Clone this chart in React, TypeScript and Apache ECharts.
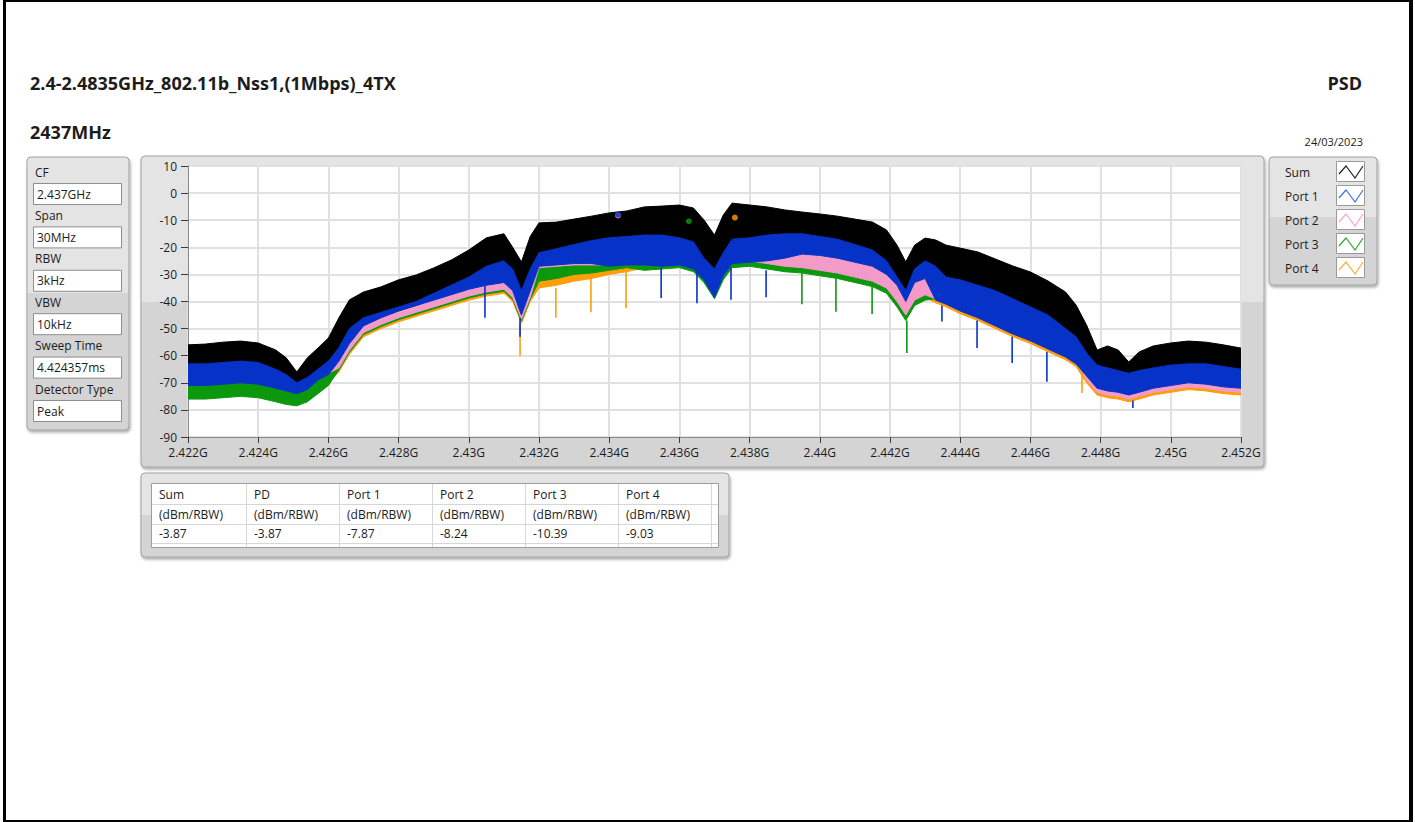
import { useEffect, useRef } from "react";
import * as echarts from "echarts";

// Frequency grid (GHz)
const freqGHz = [
  2.422, 2.4225, 2.423, 2.4235, 2.424, 2.4245, 2.4248, 2.4251, 2.4254, 2.4257,
  2.426, 2.4263, 2.4266, 2.427, 2.4275, 2.428, 2.4285, 2.429, 2.4295, 2.43,
  2.4305, 2.431, 2.43125, 2.4315, 2.43175, 2.432, 2.4325, 2.433, 2.4335, 2.434,
  2.4345, 2.435, 2.4355, 2.436, 2.4364, 2.4367, 2.437, 2.43725, 2.4375, 2.438,
  2.4385, 2.439, 2.4395, 2.44, 2.4405, 2.441, 2.4415, 2.4419, 2.4422, 2.44245,
  2.4427, 2.443, 2.4433, 2.4436, 2.444, 2.4445, 2.445, 2.4455, 2.446, 2.4465,
  2.447, 2.4473, 2.4476, 2.4479, 2.4482, 2.4485, 2.4488, 2.4491, 2.4495, 2.45,
  2.4505, 2.451, 2.4515, 2.452,
];

// Sum trace: upper envelope (dBm/RBW)
const sumHi = [
  -56, -55.7, -55, -54.6, -55.3, -57.9, -60.8, -66, -60.8, -57.2,
  -53.5, -46, -39.4, -36.5, -34.6, -32, -30.2, -27.6, -24.7, -21,
  -16.5, -15, -20, -25.4, -16, -11, -10.7, -9.6, -8.5, -7.3,
  -6.6, -5.1, -4.8, -4.4, -5.5, -9.9, -15.5, -8.1, -3.7, -4.4,
  -5.1, -6.2, -7, -7.7, -8.5, -9.6, -10.7, -13.6, -19.2, -25.4,
  -19.2, -16.6, -17.3, -19.2, -20.3, -21.7, -24.3, -26.9, -29.1, -32.4,
  -36.5, -41.3, -48.7, -57.9, -56.4, -57.9, -62.3, -58.6, -56.4, -55.3,
  -54.6, -55, -56, -57.2,
];

// Port 1 envelope
const port1Hi = [
  -63, -63, -62.5, -62, -62.5, -65, -67, -70, -68, -65,
  -62, -57, -50, -46, -44, -42, -40, -37, -34, -31,
  -27, -25, -28, -36, -28, -22, -20.5, -19, -17.5, -16.5,
  -16, -15.5, -15.5, -16.5, -18, -24, -28, -22, -17, -16.5,
  -15.5, -15, -15, -16, -17, -19, -21, -25, -31, -36,
  -28, -25, -27, -31, -32, -34, -36, -39, -42, -45,
  -50, -53, -59, -63.5, -64.5, -65.5, -66.5, -65.5, -64.5, -63.5,
  -63, -63, -64, -65,
];
const port1Lo = [
  -71, -71, -70.5, -70, -70.5, -72, -73, -74, -72.5, -69,
  -67, -62, -55.5, -49, -46, -43.5, -41.5, -39.5, -37.5, -35.5,
  -34, -33, -36, -45, -36, -27, -26.5, -26, -26, -27,
  -26.5, -26.5, -27, -26.5, -28, -32, -38.5, -30.5, -26, -25.5,
  -25, -24, -22.5, -23, -24, -25.5, -27, -30, -34, -40,
  -33, -31.5, -39.5, -41, -43.5, -46, -49, -52, -54.5, -57.5,
  -60.5, -63, -67.5, -72, -73, -73.5, -74.5, -73.5, -72, -71,
  -70, -70.5, -71.5, -72,
];

// Port 2 envelope
const port2Hi = [
  -65, -65, -64.5, -64, -64.5, -67, -69, -72, -70, -67,
  -64, -59, -52, -48, -46, -44, -42, -39, -36, -33,
  -29, -27, -30, -38, -30, -24, -22.5, -21, -19.5, -18.5,
  -18, -17.5, -17.5, -18.5, -20, -26, -30, -24, -19, -18.5,
  -17.5, -17, -17, -18, -19, -21, -23, -27, -33, -38,
  -30, -27, -29, -33, -34, -36, -38, -41, -44, -47,
  -52, -55, -61, -65.5, -66.5, -67.5, -68.5, -67.5, -66.5, -65.5,
  -65, -65, -66, -67,
];
const port2Lo = [
  -70.5, -70.5, -70, -69.5, -70, -71.5, -72.5, -73.5, -72, -68.5,
  -66.5, -64.5, -58, -51.5, -48.5, -46, -44, -42, -40, -38,
  -36.5, -35.5, -38.5, -46.5, -38.5, -27.5, -27, -26.5, -26.5, -26.5,
  -26, -26, -26.5, -26, -27.5, -31.5, -38, -30, -25.5, -25,
  -26, -27, -27.5, -28.5, -29.5, -31, -32.5, -35, -40, -45,
  -39.5, -37.5, -39, -40.5, -43, -45.5, -48.5, -51.5, -54, -57,
  -60, -62.5, -69, -73.5, -74.5, -75, -76, -75, -73.5, -72.5,
  -71.5, -72, -73, -73.5,
];

// Port 3 envelope
const port3Hi = [
  -66, -66, -65.5, -65, -65.5, -68, -70, -73, -71, -68,
  -65, -60, -53, -49, -47, -45, -43, -40, -37, -34,
  -30, -28, -31, -39, -31, -25, -23.5, -22, -20.5, -19.5,
  -19, -18.5, -18.5, -19.5, -21, -27, -31, -25, -20, -19.5,
  -18.5, -18, -18, -19, -20, -22, -24, -28, -34, -39,
  -31, -28, -30, -34, -35, -37, -39, -42, -45, -48,
  -53, -56, -62, -66.5, -67.5, -68.5, -69.5, -68.5, -67.5, -66.5,
  -66, -66, -67, -68,
];
const port3Lo = [
  -76, -76, -75.5, -75, -75.5, -77, -78, -78.5, -77, -74,
  -71, -65.2, -58.7, -52.2, -49.2, -46.7, -44.7, -42.7, -40.7, -38.7,
  -37.2, -36.2, -39.2, -47.2, -39.2, -32.5, -31.5, -30, -29.5, -28.5,
  -27.5, -28.5, -28, -27.5, -29, -33, -39, -32, -27.5, -27,
  -28, -29, -29.5, -30.5, -31.5, -33, -34.5, -37, -42, -47,
  -41.5, -39.5, -39, -40.5, -43, -45.5, -48.5, -51.5, -54, -57,
  -60, -62.5, -67, -71.5, -72.5, -73, -74, -73, -71.5, -70.5,
  -69.5, -70, -71, -71.5,
];

// Port 4 envelope
const port4Hi = [
  -67, -67, -66.5, -66, -66.5, -69, -71, -74, -72, -69,
  -66, -61, -54, -50, -48, -46, -44, -41, -38, -35,
  -31, -29, -32, -40, -32, -26, -24.5, -23, -21.5, -20.5,
  -20, -19.5, -19.5, -20.5, -22, -28, -32, -26, -21, -20.5,
  -19.5, -19, -19, -20, -21, -23, -25, -29, -35, -40,
  -32, -29, -31, -35, -36, -38, -40, -43, -46, -49,
  -54, -57, -63, -67.5, -68.5, -69.5, -70.5, -69.5, -68.5, -67.5,
  -67, -67, -68, -69,
];
const port4Lo = [
  -75, -75, -74.5, -74, -74.5, -76, -77, -77.5, -76, -73,
  -70, -66, -59.5, -53, -50, -47.5, -45.5, -43.5, -41.5, -39.5,
  -38, -37, -40, -48, -40, -35, -34, -32.5, -31.5, -30,
  -29, -27.5, -27, -26.5, -28, -32, -38, -31, -26.5, -26,
  -27, -28, -28.5, -29.5, -30.5, -32, -33.5, -36, -41, -46,
  -40.5, -38.5, -40.5, -42, -44.5, -47, -50, -53, -55.5, -58.5,
  -61.5, -64, -70, -74.5, -75.5, -76, -77, -76, -74.5, -73.5,
  -72.5, -73, -74, -74.5,
];

// Narrow downward spikes: frequency, top, bottom, trace index
const spikeFreq = [2.43046, 2.43146, 2.43146, 2.43248, 2.43348, 2.43448, 2.43548, 2.4365, 2.43747, 2.43847, 2.43949, 2.44046, 2.44149, 2.44248, 2.44348, 2.44448, 2.44548, 2.44647, 2.44747, 2.44892];
const spikeTop = [-34, -48, -46, -35, -31.5, -29, -27.5, -28, -27.5, -28.5, -29.5, -31.5, -34, -47, -41.5, -47, -53, -58.5, -66, -76.5];
const spikeBottom = [-46, -60, -53, -46, -44, -42.5, -38.7, -40.6, -39.4, -38.4, -41, -43.8, -44.6, -59, -47.4, -57.2, -62.7, -69.6, -73.8, -79.3];
const spikeTrace = [1, 4, 1, 4, 4, 4, 1, 1, 1, 1, 3, 3, 3, 3, 1, 1, 1, 1, 4, 1];

// Peak markers (Port 2, Port 1, Port 3, Port 4)
const peakFreq = [2.43425, 2.43425, 2.43627, 2.43758];
const peakValue = [-8.24, -7.87, -10.39, -9.03];
const peakTrace = [2, 1, 3, 4];

const traceNames = ["Sum", "Port 1", "Port 2", "Port 3", "Port 4"];
const traceColors = ["#000000", "#0632c8", "#f49ac9", "#0c980c", "#ff9d0a"];
const legendColors = ["#222222", "#3f6fe6", "#ffa0d2", "#2aa82a", "#ffab3a"];

const settingLabels = ["CF", "Span", "RBW", "VBW", "Sweep Time", "Detector Type"];
const settingValues = ["2.437GHz", "30MHz", "3kHz", "10kHz", "4.424357ms", "Peak"];

const tableHeaders = ["Sum", "PD", "Port 1", "Port 2", "Port 3", "Port 4"];
const tableUnits = ["(dBm/RBW)", "(dBm/RBW)", "(dBm/RBW)", "(dBm/RBW)", "(dBm/RBW)", "(dBm/RBW)"];
const tableValues = ["-3.87", "-3.87", "-7.87", "-8.24", "-10.39", "-9.03"];

const titleText = "2.4-2.4835GHz_802.11b_Nss1,(1Mbps)_4TX";
const channelText = "2437MHz";
const kindText = "PSD";
const dateText = "24/03/2023";

const FONT = '"Open Sans", "Noto Sans", sans-serif';
const TXT = "#1c1c1c";

function panelFill(split: number) {
  return new echarts.graphic.LinearGradient(0, 0, 0, 1, [
    { offset: 0, color: "#e4e4e4" },
    { offset: split, color: "#e4e4e4" },
    { offset: split, color: "#d4d4d4" },
    { offset: 1, color: "#d4d4d4" },
  ]);
}

function panel(x: number, y: number, w: number, h: number, split: number) {
  return {
    type: "rect",
    z: -10,
    silent: true,
    shape: { x, y, width: w, height: h, r: 4 },
    style: {
      fill: panelFill(split),
      stroke: "#a2a2a2",
      lineWidth: 1,
      shadowBlur: 3,
      shadowOffsetX: 1,
      shadowOffsetY: 2,
      shadowColor: "rgba(0,0,0,0.35)",
    },
  };
}

function text(t: string, x: number, y: number, font: string, align = "left", fill = TXT) {
  return {
    type: "text",
    silent: true,
    z: 5,
    style: { text: t, x, y, font, fill, align, verticalAlign: "middle" },
  };
}

function buildGraphics() {
  const els: any[] = [];
  // page frame
  els.push({ type: "rect", silent: true, z: 20, shape: { x: 3, y: 0, width: 3, height: 822 }, style: { fill: "#000" } });
  els.push({ type: "rect", silent: true, z: 20, shape: { x: 3, y: 0, width: 1410, height: 2 }, style: { fill: "#000" } });
  els.push({ type: "rect", silent: true, z: 20, shape: { x: 1409, y: 0, width: 4, height: 822 }, style: { fill: "#000" } });
  els.push({ type: "rect", silent: true, z: 20, shape: { x: 3, y: 820, width: 1410, height: 2 }, style: { fill: "#000" } });

  // titles
  els.push(text(titleText, 30, 83, `bold 18px ${FONT}`));
  els.push(text(channelText, 30, 132, `bold 18px ${FONT}`));
  els.push(text(kindText, 1362, 83, `bold 18px ${FONT}`, "right"));
  els.push(text(dateText, 1363, 141, `11px ${FONT}`, "right"));

  // settings panel
  els.push(panel(27, 157, 102, 273, 0.5));
  settingLabels.forEach((lab, i) => {
    const ly = 172 + i * 43.4;
    els.push(text(lab, 35, ly, `12px ${FONT}`));
    els.push({
      type: "rect", silent: true, z: 3,
      shape: { x: 33.5, y: ly + 11.5, width: 88, height: 21 },
      style: { fill: "#ffffff", stroke: "#8e8e8e", lineWidth: 1 },
    });
    els.push(text(settingValues[i], 37, ly + 22, `12px ${FONT}`));
  });

  // chart panel
  els.push(panel(141, 156, 1123, 311, 0.47));

  // legend panel
  els.push(panel(1269, 157, 108, 128, 0.47));
  traceNames.forEach((n, i) => {
    const y = 172 + i * 24;
    els.push(text(n, 1285, y, `12px ${FONT}`));
    els.push({
      type: "rect", silent: true, z: 3,
      shape: { x: 1336.5, y: y - 10.5, width: 28, height: 20 },
      style: { fill: "#ffffff", stroke: "#9a9a9a", lineWidth: 1 },
    });
    els.push({
      type: "polyline", silent: true, z: 4,
      shape: { points: [[1339, y + 2], [1346, y - 6], [1355, y + 6], [1363, y - 6]] },
      style: { stroke: legendColors[i], lineWidth: 1.2, fill: "none" },
    });
  });

  // table panel
  els.push(panel(141, 473, 588, 84, 0.5));
  els.push({
    type: "rect", silent: true, z: 3,
    shape: { x: 151.5, y: 483.5, width: 567, height: 64 },
    style: { fill: "#ffffff", stroke: "#9c9c9c", lineWidth: 1 },
  });
  const colX = [151, 246, 339, 432, 525, 618, 711];
  colX.slice(1).forEach((cx) => {
    els.push({ type: "line", silent: true, z: 4, shape: { x1: cx + 0.5, y1: 484, x2: cx + 0.5, y2: 547 }, style: { stroke: "#d6d6d6", lineWidth: 1 } });
  });
  [504, 524, 543].forEach((ry) => {
    els.push({ type: "line", silent: true, z: 4, shape: { x1: 152, y1: ry + 0.5, x2: 718, y2: ry + 0.5 }, style: { stroke: "#d6d6d6", lineWidth: 1 } });
  });
  tableHeaders.forEach((h, i) => {
    els.push(text(h, colX[i] + 8, 494, `12px ${FONT}`));
    els.push(text(tableUnits[i], colX[i] + 8, 514.5, `12px ${FONT}`));
    els.push(text(tableValues[i], colX[i] + 8, 533.5, `12px ${FONT}`));
  });
  return els;
}

const traceBands = [
  { lo: port1Lo, hi: sumHi },
  { lo: port1Lo, hi: port1Hi },
  { lo: port2Lo, hi: port2Hi },
  { lo: port3Lo, hi: port3Hi },
  { lo: port4Lo, hi: port4Hi },
];

// One filled polygon per trace, drawn between its lower and upper envelope
function bandSeries(idx: number) {
  const { lo, hi } = traceBands[idx];
  const color = traceColors[idx];
  return {
    type: "custom",
    name: traceNames[idx],
    silent: true,
    clip: true,
    data: freqGHz.map((f, i) => [f, lo[i], hi[i]]),
    encode: { x: 0, y: [1, 2] },
    renderItem: (params: any, api: any) => {
      if (params.dataIndex !== 0) return null;
      const top = freqGHz.map((f, i) => api.coord([f, hi[i]]));
      const bottom = freqGHz.map((f, i) => api.coord([f, lo[i]])).reverse();
      return {
        type: "polygon",
        shape: { points: top.concat(bottom) },
        style: { fill: color, stroke: color, lineWidth: 1 },
      };
    },
  };
}

export default function App() {
  const ref = useRef<HTMLDivElement>(null);
  useEffect(() => {
    if (!ref.current) return;
    const chart = echarts.init(ref.current, undefined, { renderer: "svg" });
    const drawOrder = [0, 4, 3, 2, 1];
    const series: any[] = drawOrder.map((i) => bandSeries(i));
    series.push({
      type: "custom",
      name: "spikes",
      silent: true,
      data: spikeFreq.map((f, i) => [f, spikeTop[i], spikeBottom[i], spikeTrace[i]]),
      encode: { x: 0, y: [1, 2] },
      renderItem: (_p: any, api: any) => {
        const a = api.coord([api.value(0), api.value(1)]);
        const b = api.coord([api.value(0), api.value(2)]);
        return {
          type: "line",
          shape: { x1: a[0], y1: a[1], x2: b[0], y2: b[1] },
          style: { stroke: traceColors[api.value(3)], lineWidth: 1.6 },
        };
      },
    });
    series.push({
      type: "scatter",
      name: "peaks",
      silent: true,
      symbolSize: 6,
      data: peakFreq.map((f, i) => ({
        value: [f, peakValue[i]],
        itemStyle: { color: traceColors[peakTrace[i]] },
      })),
    });

    const axisLabel = { color: TXT, fontSize: 12, fontFamily: FONT };
    chart.setOption({
      animation: false,
      backgroundColor: "#ffffff",
      grid: {
        left: 188, top: 166, width: 1053, height: 271,
        show: true, backgroundColor: "#ffffff", borderWidth: 0,
      },
      xAxis: {
        type: "value", min: 2.422, max: 2.452, interval: 0.002,
        axisLine: { show: true, onZero: false, lineStyle: { color: "#8a8a8a", width: 1 } },
        axisTick: { show: true, length: 6, lineStyle: { color: "#3a3a3a" } },
        axisLabel: { ...axisLabel, margin: 9, formatter: (v: number) => `${parseFloat(v.toFixed(3))}G` },
        splitLine: { show: true, lineStyle: { color: "#e1e1e1", width: 2 } },
      },
      yAxis: {
        type: "value", min: -90, max: 10, interval: 10,
        axisLine: { show: true, onZero: false, lineStyle: { color: "#8a8a8a", width: 1 } },
        axisTick: { show: true, length: 7, lineStyle: { color: "#3a3a3a" } },
        axisLabel: { ...axisLabel, margin: 11 },
        splitLine: { show: true, lineStyle: { color: "#e1e1e1", width: 2 } },
      },
      graphic: { elements: buildGraphics() },
      series,
    });
    return () => chart.dispose();
  }, []);
  return (
    <div
      ref={ref}
      style={{ position: "fixed", left: 0, top: 0, width: 1415, height: 822, background: "#fff" }}
    />
  );
}
